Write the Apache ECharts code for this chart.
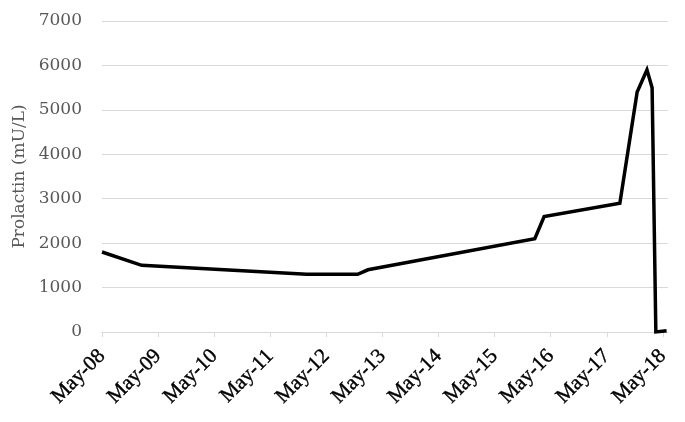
<!DOCTYPE html>
<html>
<head>
<meta charset="utf-8">
<script src="https://cdn.jsdelivr.net/npm/echarts@6/dist/echarts.min.js"></script>
<style>html,body{margin:0;padding:0;background:#fff}#c{width:685px;height:422px}</style>
</head>
<body>
<div id="c"></div>
<script>
// Months since May 2008
const monthsSinceMay08 = [0, 8.5, 43.8, 54.7, 56.9, 92.6, 94.6, 110.8, 114.5, 116.6, 117.7, 118.5, 120.8];
const prolactin = [1800, 1500, 1300, 1300, 1400, 2100, 2600, 2900, 5400, 5900, 5500, 0, 30];
const tickMonths = [0, 12, 24, 36, 48, 60, 72, 84, 96, 108, 120];
const tickLabels = ['May-08','May-09','May-10','May-11','May-12','May-13','May-14','May-15','May-16','May-17','May-18'];

const chart = echarts.init(document.getElementById('c'));
chart.setOption({
  animation: false,
  grid: { left: 102, right: 17, top: 21, bottom: 90 },
  xAxis: {
    type: 'value', min: 0, max: 121.1,
    splitLine: { show: false },
    axisLine: { show: true, lineStyle: { color: '#d9d9d9', width: 1 } },
    axisTick: { show: true, customValues: tickMonths, length: 5, lineStyle: { color: '#d9d9d9' } },
    axisLabel: {
      customValues: tickMonths,
      rotate: 45, margin: 21,
      fontFamily: 'Liberation Serif', fontSize: 21, color: '#000',
      textBorderColor: '#000', textBorderWidth: 0.4,
      formatter: v => { const i = tickMonths.indexOf(Math.round(v)); return i >= 0 ? tickLabels[i] : ''; }
    }
  },
  yAxis: {
    type: 'value', min: 0, max: 7000, interval: 1000,
    name: 'Prolactin (mU/L)', nameLocation: 'middle', nameGap: 65, nameRotate: 90,
    nameTextStyle: { fontFamily: 'DejaVu Serif', fontSize: 17, color: '#595959' },
    axisLine: { show: false }, axisTick: { show: false },
    axisLabel: { fontFamily: 'DejaVu Serif', fontSize: 17, color: '#595959', margin: 20, formatter: v => String(v) },
    splitLine: { lineStyle: { color: '#d9d9d9', width: 1 } }
  },
  series: [{
    type: 'line',
    data: monthsSinceMay08.map((m, i) => [m, prolactin[i]]),
    showSymbol: false,
    lineStyle: { color: '#000', width: 3.5, join: 'miter' },
    itemStyle: { color: '#000' }
  }]
});
</script>
</body>
</html>
